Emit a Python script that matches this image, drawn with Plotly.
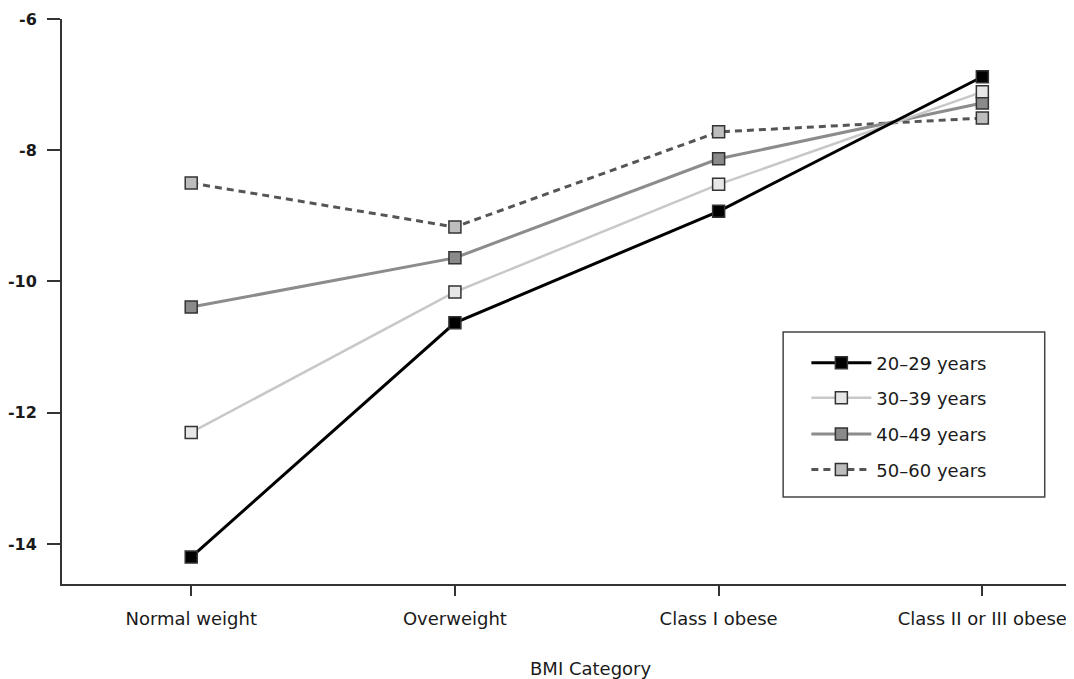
import plotly.graph_objects as go

categories = ["Normal weight", "Overweight", "Class I obese", "Class II or III obese"]
series_names = ["20–29 years", "30–39 years", "40–49 years", "50–60 years"]
v_20_29 = [-14.20, -10.63, -8.93, -6.88]
v_30_39 = [-12.30, -10.16, -8.52, -7.11]
v_40_49 = [-10.39, -9.64, -8.13, -7.28]
v_50_60 = [-8.50, -9.17, -7.72, -7.51]
y_tickvals = [-6, -8, -10, -12, -14]
y_ticktext = ["-6", "-8", "-10", "-12", "-14"]
x_title = "BMI Category"

FONT = "DejaVu Sans"
TXT = "#1a1a1a"

styles = [
    dict(line=dict(color="#000000", width=3), fill="#000000", legend="legend"),
    dict(line=dict(color="#c8c8c8", width=2.5), fill="#e6e6e6", legend="legend2"),
    dict(line=dict(color="#8c8c8c", width=3), fill="#8a8a8a", legend="legend3"),
    dict(line=dict(color="#555555", width=3, dash="7px,5px"), fill="#bdbdbd", legend="legend4"),
]
values = [v_20_29, v_30_39, v_40_49, v_50_60]

fig = go.Figure()
for i in [3, 2, 1, 0]:
    st = styles[i]
    fig.add_trace(go.Scatter(
        x=categories, y=values[i], name=series_names[i], mode="lines+markers",
        line=st["line"],
        marker=dict(symbol="square", size=12, color=st["fill"],
                    line=dict(color="#333333", width=1.5)),
        legend=st["legend"], showlegend=True,
    ))

leg_common = dict(font=dict(family=FONT, size=18, color=TXT),
                  bgcolor="rgba(0,0,0,0)", borderwidth=0, itemwidth=60,
                  xanchor="left", yanchor="middle", x=0.737, visible=True)
ys = [0.391, 0.329, 0.265, 0.202]
fig.update_layout(
    showlegend=True,
    legend=dict(y=ys[0], **leg_common),
    legend2=dict(y=ys[1], **leg_common),
    legend3=dict(y=ys[2], **leg_common),
    legend4=dict(y=ys[3], **leg_common),
)

fig.add_shape(type="rect", xref="paper", yref="paper",
              x0=0.714, x1=0.973, y0=0.154, y1=0.446,
              line=dict(color="#444444", width=1.5), fillcolor="rgba(0,0,0,0)")

fig.add_annotation(text=x_title, xref="paper", yref="paper", x=0.523, y=-0.149,
                   xanchor="center", yanchor="middle", showarrow=False,
                   font=dict(family=FONT, size=18, color=TXT))

fig.update_layout(
    width=1066, height=671,
    margin=dict(l=54, r=2, t=11, b=95),
    paper_bgcolor="white", plot_bgcolor="white",
    font=dict(family=FONT, size=18, color=TXT),
    xaxis=dict(
        type="category", range=[-0.49, 3.34], automargin=False,
        showline=True, linecolor="#333333", linewidth=2,
        ticks="outside", ticklen=10, tickcolor="#333333", tickwidth=1.5,
        showgrid=False, zeroline=False, ticklabelstandoff=7,
        tickfont=dict(family=FONT, size=18, color=TXT),
    ),
    yaxis=dict(
        range=[-14.61, -6], tickvals=y_tickvals, ticktext=y_ticktext, automargin=False,
        showline=True, linecolor="#333333", linewidth=2,
        ticks="outside", ticklen=13, tickcolor="#333333", tickwidth=1.5,
        showgrid=False, zeroline=False, ticklabelstandoff=7,
        tickfont=dict(family=FONT, size=16, color=TXT, weight="bold"),
    ),
)

fig.write_html("out.html")
